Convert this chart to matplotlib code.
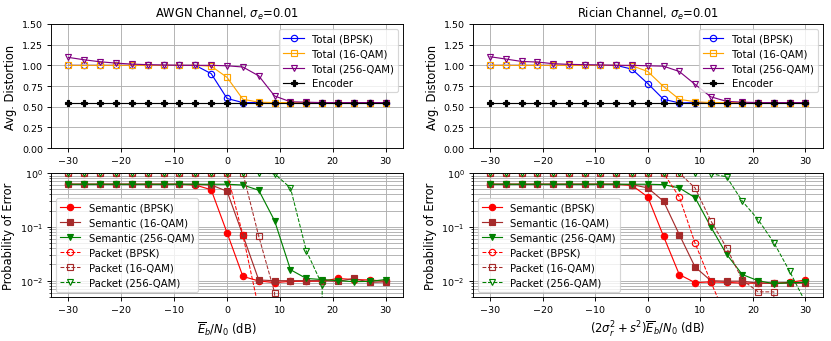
import numpy as np
import matplotlib
matplotlib.use('Agg')
import matplotlib.pyplot as plt

plt.rcParams['font.size'] = 10
plt.rcParams['xtick.labelsize'] = 8.2
plt.rcParams['ytick.labelsize'] = 8.2

snr = [-30, -27, -24, -21, -18, -15, -12, -9, -6, -3, 0, 3, 6, 9, 12, 15, 18, 21, 24, 27, 30]

# ── 평균 왜곡 (상단) ─────────────────────────────────────────
awgn_total_bpsk = [1.0, 1.0, 1.0, 1.0, 1.0, 1.0, 1.0, 1.0, 1.0, 0.90, 0.60, 0.55, 0.55, 0.55, 0.55, 0.55, 0.55, 0.55, 0.55, 0.55, 0.55]
awgn_total_16 = [1.0, 1.0, 1.0, 1.0, 1.0, 1.0, 1.0, 1.0, 1.0, 0.99, 0.855, 0.59, 0.555, 0.55, 0.55, 0.55, 0.55, 0.55, 0.55, 0.55, 0.55]
awgn_total_256 = [1.096, 1.067, 1.043, 1.027, 1.015, 1.008, 1.004, 1.0, 1.0, 1.0, 0.995, 0.98, 0.873, 0.63, 0.56, 0.555, 0.55, 0.55, 0.55, 0.55, 0.55]
ric_total_bpsk = [1.0, 1.0, 1.0, 1.0, 1.0, 1.0, 1.0, 1.0, 1.0, 0.954, 0.78, 0.59, 0.546, 0.55, 0.55, 0.55, 0.55, 0.55, 0.55, 0.55, 0.55]
ric_total_16 = [1.0, 1.0, 1.0, 1.0, 1.0, 1.0, 1.0, 1.0, 1.0, 0.995, 0.926, 0.744, 0.59, 0.56, 0.55, 0.55, 0.55, 0.55, 0.55, 0.55, 0.55]
ric_total_256 = [1.104, 1.076, 1.047, 1.04, 1.02, 1.012, 1.008, 1.004, 1.0, 1.0, 0.995, 0.99, 0.926, 0.77, 0.62, 0.565, 0.555, 0.55, 0.55, 0.55, 0.55]
encoder = [0.55] * len(snr)

# ── 오류 확률 (하단) ─────────────────────────────────────────
awgn_sem_bpsk = [0.62, 0.62, 0.62, 0.62, 0.62, 0.62, 0.62, 0.62, 0.60, 0.49, 0.078, 0.012, 0.0099, 0.0092, 0.0097, 0.0098, 0.0098, 0.011, 0.0105, 0.0103, 0.0098]
awgn_sem_16 = [0.62, 0.62, 0.62, 0.62, 0.62, 0.62, 0.62, 0.62, 0.62, 0.60, 0.46, 0.07, 0.0103, 0.0100, 0.0100, 0.0100, 0.0100, 0.0097, 0.011, 0.0093, 0.0095]
awgn_sem_256 = [0.62, 0.62, 0.62, 0.62, 0.62, 0.62, 0.62, 0.62, 0.62, 0.62, 0.62, 0.60, 0.48, 0.13, 0.016, 0.011, 0.0105, 0.0100, 0.0096, 0.0097, 0.0105]
awgn_pkt_bpsk = [1.0, 1.0, 1.0, 1.0, 1.0, 1.0, 1.0, 1.0, 1.0, 1.0, 1.0, 0.07, 0.003, 0, 0, 0, 0, 0, 0, 0, 0]
awgn_pkt_16 = [1.0, 1.0, 1.0, 1.0, 1.0, 1.0, 1.0, 1.0, 1.0, 1.0, 1.0, 1.0, 0.067, 0.006, 0, 0, 0, 0, 0, 0, 0]
awgn_pkt_256 = [1.0, 1.0, 1.0, 1.0, 1.0, 1.0, 1.0, 1.0, 1.0, 1.0, 1.0, 1.0, 1.0, 0.97, 0.53, 0.036, 0.0083, 0, 0, 0, 0]

ric_sem_bpsk = [0.62, 0.62, 0.62, 0.62, 0.62, 0.62, 0.62, 0.62, 0.62, 0.59, 0.36, 0.067, 0.013, 0.0092, 0.0095, 0.0093, 0.009, 0.009, 0.009, 0.0093, 0.0103]
ric_sem_16 = [0.62, 0.62, 0.62, 0.62, 0.62, 0.62, 0.62, 0.62, 0.62, 0.61, 0.53, 0.30, 0.072, 0.018, 0.010, 0.0098, 0.0098, 0.009, 0.009, 0.009, 0.009]
ric_sem_256 = [0.62, 0.62, 0.62, 0.62, 0.62, 0.62, 0.62, 0.62, 0.62, 0.62, 0.62, 0.61, 0.53, 0.35, 0.10, 0.031, 0.013, 0.010, 0.0088, 0.0092, 0.0093]
ric_pkt_bpsk = [1.0, 1.0, 1.0, 1.0, 1.0, 1.0, 1.0, 1.0, 1.0, 1.0, 1.0, 1.0, 0.36, 0.05, 0.0095, 0.002, 0, 0, 0, 0, 0]
ric_pkt_16 = [1.0, 1.0, 1.0, 1.0, 1.0, 1.0, 1.0, 1.0, 1.0, 1.0, 1.0, 1.0, 1.0, 0.53, 0.13, 0.041, 0.0103, 0.0062, 0.0062, 0, 0]
ric_pkt_256 = [1.0, 1.0, 1.0, 1.0, 1.0, 1.0, 1.0, 1.0, 1.0, 1.0, 1.0, 1.0, 1.0, 1.0, 0.98, 0.85, 0.30, 0.137, 0.051, 0.015, 0.004]

TITLES = [r'AWGN Channel, $\sigma_e$=0.01', r'Rician Channel, $\sigma_e$=0.01']
XLABELS = [r'$\overline{E}_b/N_0$ (dB)', r'$(2\sigma_r^2+s^2)\overline{E}_b/N_0$ (dB)']
XTICKS = [-30, -20, -10, 0, 10, 20, 30]

fig = plt.figure(figsize=(10, 4.1155), dpi=83.1)
ax_pos = {
    (0, 0): [0.0614, 0.564, 0.4236, 0.363],
    (0, 1): [0.569, 0.564, 0.421, 0.363],
    (1, 0): [0.0614, 0.129, 0.4236, 0.362],
    (1, 1): [0.569, 0.129, 0.421, 0.362],
}

top_data = [(awgn_total_bpsk, awgn_total_16, awgn_total_256),
            (ric_total_bpsk, ric_total_16, ric_total_256)]
bot_data = [(awgn_sem_bpsk, awgn_sem_16, awgn_sem_256, awgn_pkt_bpsk, awgn_pkt_16, awgn_pkt_256),
            (ric_sem_bpsk, ric_sem_16, ric_sem_256, ric_pkt_bpsk, ric_pkt_16, ric_pkt_256)]

ms = 5.5
for c in range(2):
    # ── 상단: 평균 왜곡 ──
    ax = fig.add_axes(ax_pos[(0, c)])
    tb, t16, t256 = top_data[c]
    ax.plot(snr, tb, color='blue', marker='o', mfc='none', ms=ms, lw=1, label='Total (BPSK)')
    ax.plot(snr, t16, color='orange', marker='s', mfc='none', ms=ms, lw=1, label='Total (16-QAM)')
    ax.plot(snr, t256, color='purple', marker='v', mfc='none', ms=ms, lw=1, label='Total (256-QAM)')
    ax.plot(snr, encoder, color='black', marker='P', ms=ms - 0.5, lw=1, label='Encoder')
    ax.set_ylim(0, 1.5)
    ax.set_xlim(-33.3, 33.3)
    ax.set_yticks([0, 0.25, 0.5, 0.75, 1.0, 1.25, 1.5])
    ax.set_xticks(XTICKS)
    ax.set_ylabel('Avg. Distortion')
    ax.set_title(TITLES[c], fontsize=10)
    ax.grid(True)
    ax.legend(loc='upper right', fontsize=8.8)

    # ── 하단: 오류 확률 ──
    ax = fig.add_axes(ax_pos[(1, c)])
    sb, s16, s256, pb, p16, p256 = bot_data[c]
    ax.semilogy(snr, sb, color='red', marker='o', ms=ms, lw=1, label='Semantic (BPSK)')
    ax.semilogy(snr, s16, color='brown', marker='s', ms=ms, lw=1, label='Semantic (16-QAM)')
    ax.semilogy(snr, s256, color='green', marker='v', ms=ms, lw=1, label='Semantic (256-QAM)')
    ax.semilogy(snr, pb, color='red', marker='o', mfc='none', ms=ms, lw=0.9, ls='--', label='Packet (BPSK)')
    ax.semilogy(snr, p16, color='brown', marker='s', mfc='none', ms=ms, lw=0.9, ls='--', label='Packet (16-QAM)')
    ax.semilogy(snr, p256, color='green', marker='v', mfc='none', ms=ms, lw=0.9, ls='--', label='Packet (256-QAM)')
    ax.set_ylim(5e-3, 1)
    ax.set_xlim(-33.3, 33.3)
    ax.set_xticks(XTICKS)
    ax.set_ylabel('Probability of Error')
    ax.set_xlabel(XLABELS[c])
    ax.grid(True, which='both')
    ax.legend(loc='lower left', fontsize=8.8)

plt.savefig('out.png', dpi=83.1)
